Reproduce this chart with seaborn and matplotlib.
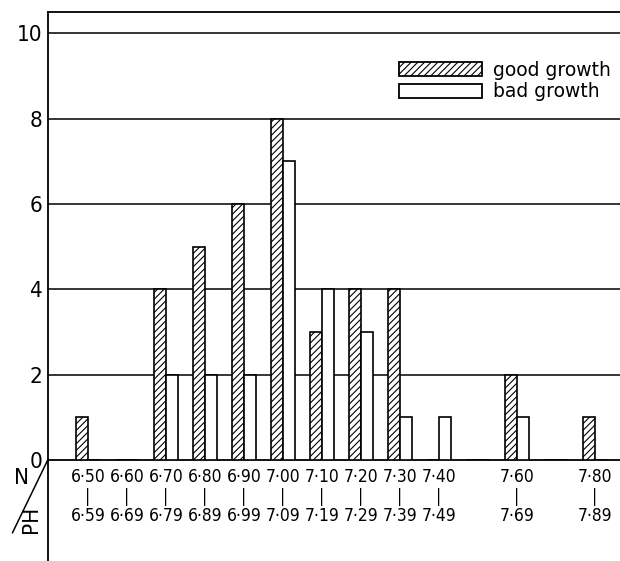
import pandas as pd
import seaborn as sns
import matplotlib.pyplot as plt
from matplotlib.patches import Patch

# pH ranges (7.50 and 7.70 have no data and no label)
ph_low = ["6·50", "6·60", "6·70", "6·80", "6·90", "7·00", "7·10",
          "7·20", "7·30", "7·40", "7·50", "7·60", "7·70", "7·80"]
ph_high = ["6·59", "6·69", "6·79", "6·89", "6·99", "7·09", "7·19",
           "7·29", "7·39", "7·49", "7·59", "7·69", "7·79", "7·89"]
show_label = [1, 1, 1, 1, 1, 1, 1, 1, 1, 1, 0, 1, 0, 1]
good = [1, 0, 4, 5, 6, 8, 3, 4, 4, 0, 0, 2, 0, 1]
bad = [0, 0, 2, 2, 2, 7, 4, 3, 1, 1, 0, 1, 0, 0]

df = pd.DataFrame({
    "ph": ph_low * 2,
    "n": good + bad,
    "growth": ["good growth"] * len(good) + ["bad growth"] * len(bad),
})

sns.set_style("white")
plt.rcParams["font.family"] = ["DejaVu Sans"]
plt.rcParams["font.stretch"] = "condensed"
plt.rcParams["text.color"] = "black"
plt.rcParams["xtick.color"] = "black"
plt.rcParams["ytick.color"] = "black"
plt.rcParams["hatch.linewidth"] = 0.8

fig = plt.figure(figsize=(6.2, 5.61), dpi=100)
ax = fig.add_axes([0.077, 0.18, 0.923, 0.799])

sns.barplot(data=df, x="ph", y="n", hue="growth", order=ph_low,
            hue_order=["good growth", "bad growth"],
            palette=["white", "white"], width=0.62, edgecolor="black",
            linewidth=1.2, legend=False, ax=ax, zorder=3)
for bar in ax.containers[0]:
    bar.set_hatch("/////")

# grid lines
for y in [2, 4, 6, 8, 10]:
    ax.axhline(y, color="black", lw=1.1, zorder=1)

ax.set_ylim(0, 10.5)
ax.set_xlim(-1.03, 13.64)
ax.set_yticks([0, 2, 4, 6, 8, 10])
ax.tick_params(axis="y", length=0, labelsize=16, pad=4)
ax.set_xticks(range(len(ph_low)))
ax.set_xticklabels([f"{a}\n|\n{b}" if s else "" for a, b, s in zip(ph_low, ph_high, show_label)],
                   linespacing=1.1)
ax.tick_params(axis="x", length=0, labelsize=12.5, pad=6)
ax.set_xlabel("")
ax.set_ylabel("")

for side in ["left", "bottom", "top"]:
    ax.spines[side].set_color("black")
    ax.spines[side].set_linewidth(1.3)
ax.spines["right"].set_visible(False)

# left axis continues down through the label area
ax.plot([0, 0], [-0.23, 0], transform=ax.transAxes, color="black", lw=1.3, clip_on=False)

# N / PH corner
fig.lines.append(plt.Line2D([0.077, 0.02], [0.18, 0.05], transform=fig.transFigure, color="black", lw=1.1))
fig.text(0.022, 0.148, "N", fontsize=16, ha="left", va="center")
fig.text(0.05, 0.05, "PH", fontsize=16, rotation=90, ha="center", va="bottom")

handles = [Patch(facecolor="white", edgecolor="black", hatch="/////", lw=1.3),
           Patch(facecolor="white", edgecolor="black", lw=1.3)]
ax.legend(handles, ["good growth", "bad growth"], loc="upper right",
          bbox_to_anchor=(1.0, 0.912), frameon=False,
          prop={"size": 13.5, "stretch": "normal"}, borderaxespad=0.1,
          handlelength=4.4, handleheight=0.8, labelspacing=0.15, handletextpad=0.6)

fig.savefig("out.png", dpi=100)
